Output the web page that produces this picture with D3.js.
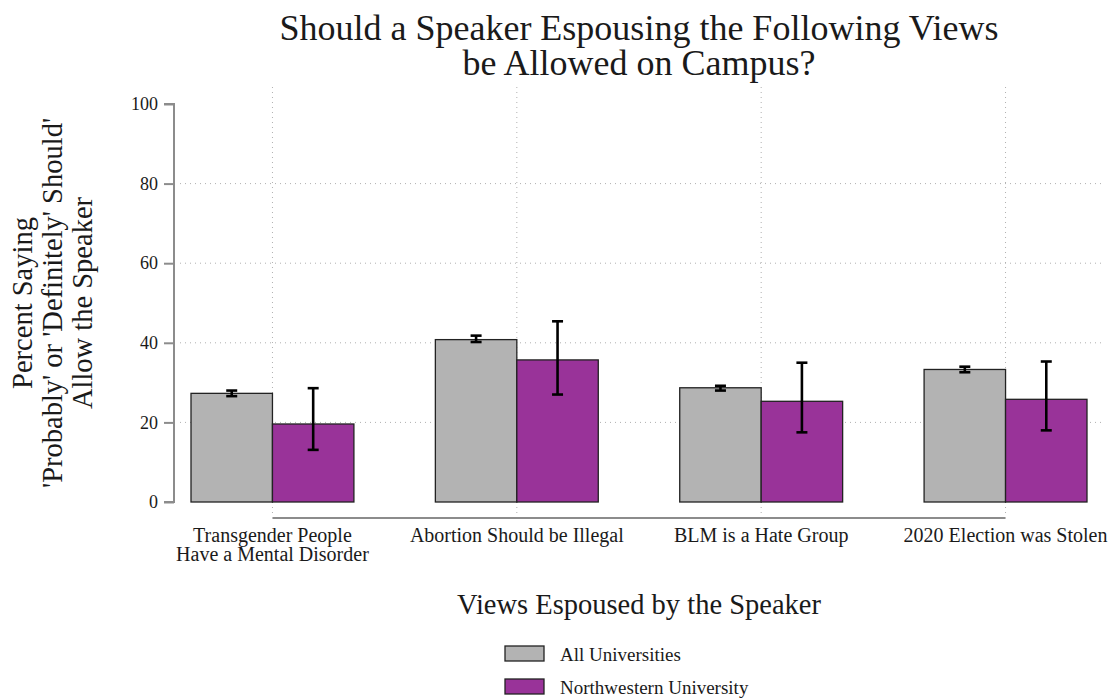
<!DOCTYPE html>
<html>
<head>
<meta charset="utf-8">
<script src="https://cdn.jsdelivr.net/npm/d3@7"></script>
<style>
  html, body { margin: 0; padding: 0; background: #fff; }
  svg { display: block; }
</style>
</head>
<body>
<svg id="chart" width="1113" height="700"></svg>
<script>
// Survey results: share saying a speaker should "probably" or "definitely" be allowed
const categories = [
  ["Transgender People", "Have a Mental Disorder"],
  ["Abortion Should be Illegal"],
  ["BLM is a Hate Group"],
  ["2020 Election was Stolen"]
];
const seriesNames = ["All Universities", "Northwestern University"];
const allValues = [27.3, 40.8, 28.7, 33.3];
const allLow    = [26.6, 40.2, 28.0, 32.6];
const allHigh   = [28.0, 41.8, 29.2, 34.0];
const nuValues  = [19.6, 35.7, 25.3, 25.8];
const nuLow     = [13.1, 27.0, 17.5, 18.0];
const nuHigh    = [28.6, 45.4, 35.0, 35.3];
const yTicks = [0, 20, 40, 60, 80, 100];
const colors = ["#b3b3b3", "#993399"];

const FONT = "Liberation Serif";
const INK = "#1a1a1a";

const svg = d3.select("#chart");

const x = d3.scaleBand()
  .domain(d3.range(categories.length))
  .range([191, 1087])
  .paddingInner(1 / 3)
  .paddingOuter(0);
const xSub = d3.scaleBand()
  .domain(d3.range(seriesNames.length))
  .range([0, x.bandwidth()]);
const y = d3.scaleLinear().domain([0, 100]).range([502, 104]);

const center = i => x(i) + x.bandwidth() / 2;

// gridlines
const grid = svg.append("g").attr("stroke", "#b0b0b0").attr("stroke-width", 1)
  .attr("stroke-dasharray", "1,4");
grid.selectAll("line.h").data(yTicks.filter(t => t > 0 && t < 100)).join("line")
  .attr("x1", 180).attr("x2", 1102)
  .attr("y1", d => y(d)).attr("y2", d => y(d));
grid.selectAll("line.v").data(d3.range(categories.length)).join("line")
  .attr("x1", d => center(d)).attr("x2", d => center(d))
  .attr("y1", 87).attr("y2", 514);

// y axis
const yAxis = d3.axisLeft(y).tickValues(yTicks).tickSize(10).tickPadding(6);
const gy = svg.append("g").attr("transform", "translate(174,0)").call(yAxis);
gy.attr("font-family", FONT).attr("font-size", 18);
gy.select(".domain").attr("stroke", "#8c8c8c").attr("stroke-width", 2)
  .attr("d", `M-10,${y(100)}H0V${y(0)}H-10`);
gy.selectAll(".tick line").attr("stroke", "#8c8c8c").attr("stroke-width", 2);
gy.selectAll(".tick text").attr("fill", INK);

// x axis line spans first to last category
svg.append("line")
  .attr("x1", center(0)).attr("x2", center(categories.length - 1))
  .attr("y1", 518).attr("y2", 518)
  .attr("stroke", "#8c8c8c").attr("stroke-width", 2);

// category labels
const lab = svg.append("g").selectAll("text").data(categories).join("text")
  .attr("text-anchor", "middle")
  .attr("font-family", FONT).attr("font-size", 20).attr("fill", INK)
  .attr("x", (d, i) => center(i)).attr("y", 542);
lab.selectAll("tspan").data(d => d).join("tspan")
  .attr("x", function () { return d3.select(this.parentNode).attr("x"); })
  .attr("dy", (d, j) => j === 0 ? 0 : 19)
  .text(d => d);

// bars
const series = [
  { vals: allValues, lo: allLow, hi: allHigh },
  { vals: nuValues, lo: nuLow, hi: nuHigh }
];
series.forEach((s, si) => {
  const g = svg.append("g");
  g.selectAll("rect").data(s.vals).join("rect")
    .attr("x", (d, i) => x(i) + xSub(si))
    .attr("width", xSub.bandwidth())
    .attr("y", d => y(d))
    .attr("height", d => y(0) - y(d))
    .attr("fill", colors[si])
    .attr("stroke", "#222").attr("stroke-width", 1.3);
});
// error bars
series.forEach((s, si) => {
  const g = svg.append("g").attr("stroke", "#000").attr("stroke-width", 2.6);
  s.vals.forEach((v, i) => {
    const cx = x(i) + xSub(si) + xSub.bandwidth() / 2;
    g.append("line").attr("x1", cx).attr("x2", cx).attr("y1", y(s.hi[i])).attr("y2", y(s.lo[i]));
    [s.hi[i], s.lo[i]].forEach(e => {
      g.append("line").attr("x1", cx - 5.5).attr("x2", cx + 5.5).attr("y1", y(e)).attr("y2", y(e));
    });
  });
});

// title
svg.append("text").attr("text-anchor", "middle")
  .attr("font-family", FONT).attr("font-size", 36).attr("fill", INK)
  .attr("x", 639).attr("y", 40)
  .selectAll("tspan").data(["Should a Speaker Espousing the Following Views", "be Allowed on Campus?"])
  .join("tspan").attr("x", 639).attr("dy", (d, i) => i ? 35 : 0).text(d => d);

// axis titles
svg.append("text").attr("text-anchor", "middle")
  .attr("font-family", FONT).attr("font-size", 28.5).attr("fill", INK)
  .attr("x", 639).attr("y", 614).text("Views Espoused by the Speaker");

const yTitle = ["Percent Saying", "'Probably' or 'Definitely' Should'", "Allow the Speaker"];
svg.append("text").attr("text-anchor", "middle")
  .attr("font-family", FONT).attr("font-size", 28.5).attr("fill", INK)
  .attr("transform", `translate(0,${(y(0) + y(100)) / 2}) rotate(-90)`)
  .selectAll("tspan").data(yTitle).join("tspan")
  .attr("x", 0).attr("y", (d, i) => 32 + i * 30).text(d => d);

// legend
const leg = svg.append("g");
seriesNames.forEach((name, i) => {
  const ly = 646 + i * 33;
  leg.append("rect").attr("x", 505).attr("y", ly).attr("width", 39).attr("height", 15)
    .attr("fill", colors[i]).attr("stroke", "#222").attr("stroke-width", 1.3);
  leg.append("text").attr("x", 560).attr("y", ly + 15)
    .attr("font-family", FONT).attr("font-size", 19).attr("fill", INK).text(name);
});
</script>
</body>
</html>
